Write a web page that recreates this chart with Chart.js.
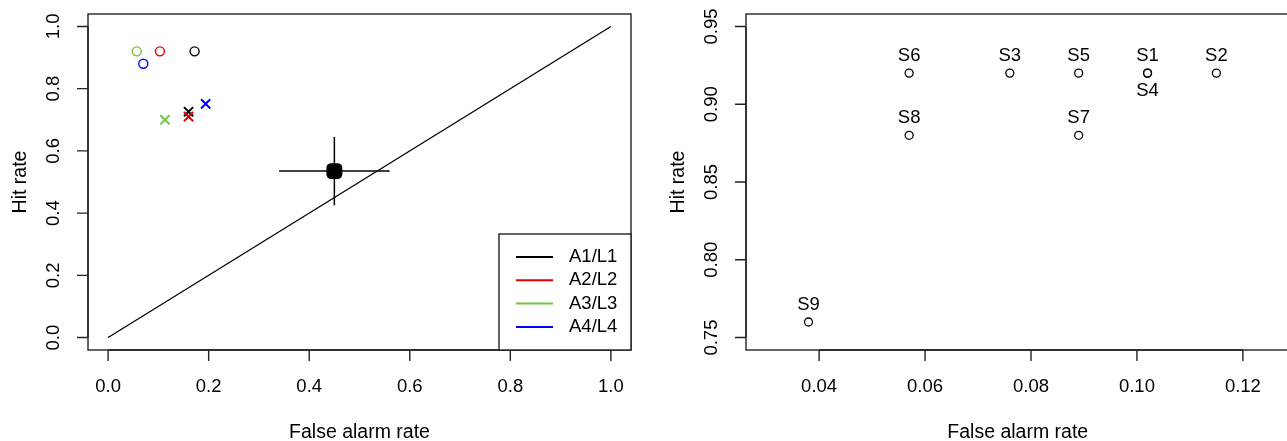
<!DOCTYPE html>
<html>
<head>
<meta charset="utf-8">
<script src="https://cdn.jsdelivr.net/npm/chart.js@4/dist/chart.umd.min.js"></script>
<style>
html,body{margin:0;padding:0;background:#fff;overflow:hidden;width:1287px;height:441px}
canvas{position:absolute;top:0}
#left{left:0}
#right{left:643px}
</style>
</head>
<body>
<canvas id="left" width="643" height="441"></canvas>
<canvas id="right" width="660" height="441"></canvas>
<script>
// left panel data
const groups = ['A1/L1','A2/L2','A3/L3','A4/L4'];
const circleFAR = [0.172, 0.103, 0.057, 0.070];
const circleHR  = [0.920, 0.920, 0.920, 0.880];
const crossFAR  = [0.160, 0.160, 0.113, 0.194];
const crossHR   = [0.726, 0.710, 0.700, 0.751];
const meanFAR = [0.45], meanHR = [0.535];
const errFAR = 0.11, errHR = 0.11;
const diagX = [0, 1], diagY = [0, 1];
const leftXTicks = [0, 0.2, 0.4, 0.6, 0.8, 1.0];
const leftYTicks = [0, 0.2, 0.4, 0.6, 0.8, 1.0];

// right panel data
const subjects = ['S1','S2','S3','S4','S5','S6','S7','S8','S9'];
const subjFAR  = [0.102, 0.115, 0.076, 0.102, 0.089, 0.057, 0.089, 0.057, 0.038];
const subjHR   = [0.92, 0.92, 0.92, 0.92, 0.92, 0.92, 0.88, 0.88, 0.76];
const subjBelow = ['S4'];
const rightXTicks = [0.04, 0.06, 0.08, 0.10, 0.12];
const rightYTicks = [0.75, 0.80, 0.85, 0.90, 0.95];

const colors = ['#000000', '#e00000', '#6cc83c', '#0000ff'];
const FONT = '18.5px "Liberation Sans", Arial, sans-serif';
const TITLE_FONT = '19.5px "Liberation Sans", Arial, sans-serif';
const xy = (xs, ys) => xs.map((x,i)=>({x, y:ys[i]}));
const fmt = (ticks) => { const d = Math.max(...ticks.map(t=> (String(t).split('.')[1]||'').length), 1); return v => v.toFixed(d); };

// R-like box, axes, ticks and titles
const rAxes = {
  id:'rAxes',
  afterDraw(chart, args, o){
    const {ctx, chartArea:a, scales:{x, y}} = chart;
    ctx.save();
    ctx.strokeStyle = '#222'; ctx.lineWidth = 1.4;
    if(o.box) ctx.strokeRect(a.left, a.top, a.right-a.left, a.bottom-a.top);
    ctx.fillStyle = '#000'; ctx.font = FONT;
    // x axis
    const xf = fmt(o.xTicks);
    ctx.beginPath();
    ctx.moveTo(x.getPixelForValue(o.xTicks[0]), a.bottom);
    ctx.lineTo(x.getPixelForValue(o.xTicks[o.xTicks.length-1]), a.bottom);
    o.xTicks.forEach(t=>{ const px = x.getPixelForValue(t); ctx.moveTo(px, a.bottom); ctx.lineTo(px, a.bottom+11); });
    ctx.stroke();
    ctx.textAlign = 'center'; ctx.textBaseline = 'middle';
    o.xTicks.forEach(t=> ctx.fillText(xf(t), x.getPixelForValue(t), a.bottom+37));
    ctx.font = TITLE_FONT;
    ctx.fillText('False alarm rate', (a.left+a.right)/2, a.bottom+83);
    // y axis
    ctx.font = FONT;
    const yf = fmt(o.yTicks);
    ctx.beginPath();
    ctx.moveTo(a.left, y.getPixelForValue(o.yTicks[0]));
    ctx.lineTo(a.left, y.getPixelForValue(o.yTicks[o.yTicks.length-1]));
    o.yTicks.forEach(t=>{ const py = y.getPixelForValue(t); ctx.moveTo(a.left, py); ctx.lineTo(a.left-11, py); });
    ctx.stroke();
    o.yTicks.forEach(t=>{
      ctx.save(); ctx.translate(a.left-34, y.getPixelForValue(t)); ctx.rotate(-Math.PI/2);
      ctx.fillText(yf(t), 0, 0); ctx.restore();
    });
    ctx.font = TITLE_FONT;
    ctx.save(); ctx.translate(a.left-67, (a.top+a.bottom)/2); ctx.rotate(-Math.PI/2);
    ctx.fillText('Hit rate', 0, 0); ctx.restore();
    ctx.restore();
  }
};

// legend box inside the left plot
const boxLegend = {
  id:'boxLegend',
  afterDraw(chart){
    const {ctx, chartArea:a} = chart;
    ctx.save();
    const x0 = 499, y0 = 234;
    ctx.fillStyle = '#fff';
    ctx.fillRect(x0, y0, a.right-x0, a.bottom-y0);
    ctx.strokeStyle = '#222'; ctx.lineWidth = 1.4;
    ctx.strokeRect(x0, y0, a.right-x0, a.bottom-y0);
    ctx.font = FONT; ctx.textAlign = 'left'; ctx.textBaseline = 'middle';
    groups.forEach((g,i)=>{
      const yy = 257 + i*23.3;
      ctx.strokeStyle = colors[i]; ctx.lineWidth = 2;
      ctx.beginPath(); ctx.moveTo(516, yy); ctx.lineTo(553, yy); ctx.stroke();
      ctx.fillStyle = '#000'; ctx.fillText(g, 569, yy);
    });
    ctx.restore();
  }
};

// text labels for the right plot
const pointLabels = {
  id:'pointLabels',
  afterDatasetsDraw(chart){
    const {ctx} = chart;
    const meta = chart.getDatasetMeta(0);
    ctx.save();
    ctx.font = FONT; ctx.fillStyle = '#000'; ctx.textAlign = 'center'; ctx.textBaseline = 'middle';
    meta.data.forEach((p,i)=>{
      const dy = subjBelow.includes(subjects[i]) ? 17.5 : -17.5;
      ctx.fillText(subjects[i], p.x, p.y+dy);
    });
    ctx.restore();
  }
};

const hidden = (min, max) => ({ type:'linear', min, max, display:false });

new Chart(document.getElementById('left'), {
  type:'scatter',
  data:{ datasets:[
    { data: xy(diagX, diagY), showLine:true, borderColor:'#000', borderWidth:1.3, pointRadius:0 },
    { data: xy([meanFAR[0]-errFAR, meanFAR[0]+errFAR], [meanHR[0], meanHR[0]]), showLine:true, borderColor:'#000', borderWidth:1.5, pointRadius:0 },
    { data: xy([meanFAR[0], meanFAR[0]], [meanHR[0]-errHR, meanHR[0]+errHR]), showLine:true, borderColor:'#000', borderWidth:1.5, pointRadius:0 },
    { data: xy(meanFAR, meanHR), pointStyle:'rectRounded', pointRadius:9.3, backgroundColor:'#000', borderColor:'#000', borderWidth:0 },
    { data: xy(circleFAR, circleHR), pointStyle:'circle', pointRadius:4.5, borderWidth:1.4, borderColor:colors, backgroundColor:'rgba(0,0,0,0)' },
    { data: xy(crossFAR, crossHR), pointStyle:'crossRot', pointRadius:6.5, borderWidth:2, borderColor:colors }
  ]},
  options:{
    responsive:false, animation:false, devicePixelRatio:1,
    layout:{ padding:{ left:88, right:12, top:14, bottom:91 } },
    scales:{ x: hidden(-0.04, 1.04), y: hidden(-0.04, 1.04) },
    plugins:{ legend:{display:false}, tooltip:{enabled:false},
      rAxes:{ xTicks:leftXTicks, yTicks:leftYTicks, box:true } }
  },
  plugins:[rAxes, boxLegend]
});

new Chart(document.getElementById('right'), {
  type:'scatter',
  data:{ datasets:[
    { data: xy(subjFAR, subjHR), pointStyle:'circle', pointRadius:4, borderWidth:1.3, borderColor:'#000', backgroundColor:'rgba(0,0,0,0)' }
  ]},
  options:{
    responsive:false, animation:false, devicePixelRatio:1,
    layout:{ padding:{ left:103, right:13.5, top:14, bottom:91 } },
    scales:{ x: hidden(0.0262, 0.1288), y: hidden(0.742, 0.958) },
    plugins:{ legend:{display:false}, tooltip:{enabled:false},
      rAxes:{ xTicks:rightXTicks, yTicks:rightYTicks, box:true } }
  },
  plugins:[rAxes, pointLabels]
});
</script>
</body>
</html>
